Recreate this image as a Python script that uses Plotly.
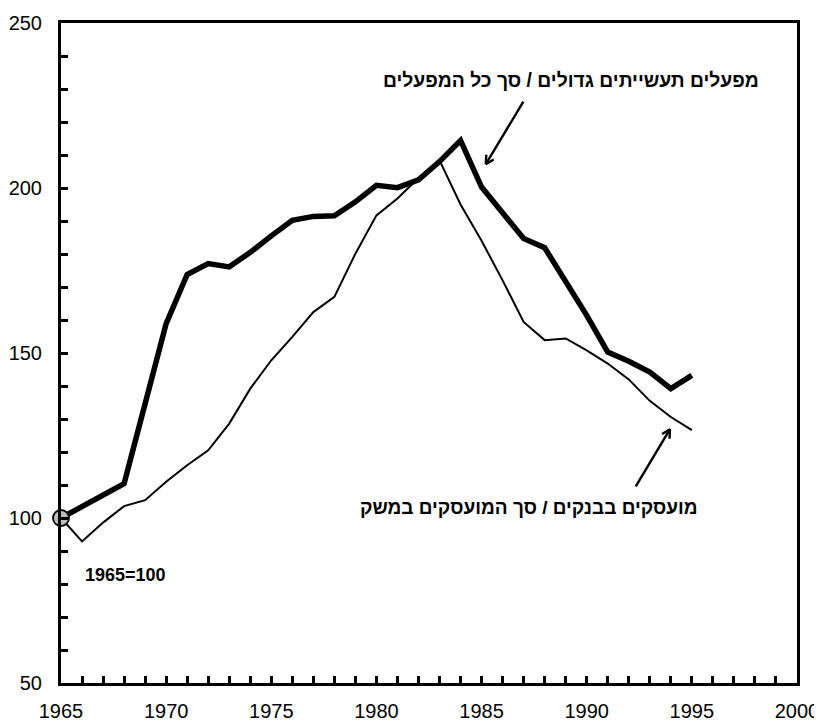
import math
import plotly.graph_objects as go

years = list(range(1965, 1996))
large_factories = [100, 103.5, 107, 110.4, 134.6, 158.9, 173.8, 177.1, 176.1, 180.5, 185.5, 190.2,
                   191.4, 191.6, 195.8, 200.8, 200.1, 202.5, 208.0, 214.4, 200.3, 192.2, 184.7,
                   181.9, 172.0, 161.4, 150.3, 147.5, 144.2, 139.2, 143.2]
bank_employees = [100, 92.9, 98.6, 103.6, 105.4, 111.0, 116.0, 120.5, 128.6, 139.2, 147.8, 154.9,
                  162.4, 167.0, 180.1, 191.7, 196.8, 203.0, 208.4, 195.0, 184.0, 172.0, 159.4,
                  153.9, 154.4, 150.8, 146.8, 142.0, 135.5, 130.6, 126.6]

label_factories = "מפעלים תעשייתים גדולים / סך כל המפעלים"
label_banks = "מועסקים בבנקים / סך המועסקים במשק"
base_label = "1965=100"

x_ticks = list(range(1965, 2001))
x_ticktext = [str(y) if y % 5 == 0 else "" for y in x_ticks]
y_ticks = list(range(50, 251, 10))
y_ticktext = [str(v) if v % 50 == 0 else "" for v in y_ticks]

W, H = 814, 714
ML, MR, MT, MB = 53, 25, 15, 39
X0, X1, Y0, Y1 = 1965, 2000, 50, 250
px_per_x = (W - ML - MR) / (X1 - X0)
px_per_y = (H - MT - MB) / (Y1 - Y0)

fig = go.Figure()
fig.add_trace(go.Scatter(x=years, y=bank_employees, mode="lines",
                         line=dict(color="black", width=2), showlegend=False))
fig.add_trace(go.Scatter(x=years, y=large_factories, mode="lines",
                         line=dict(color="black", width=5.5), showlegend=False))
fig.add_trace(go.Scatter(x=[years[0]], y=[large_factories[0]], mode="markers",
                         marker=dict(size=16, color="#bdbdbd", line=dict(color="black", width=1.8)),
                         showlegend=False, cliponaxis=False))

fig.add_annotation(x=1998.3, y=232.6, xref="x", yref="y", text=f"<b>{label_factories}</b>",
                   showarrow=False, xanchor="right", yanchor="middle",
                   font=dict(family="Liberation Sans", size=19.3, color="black"))
fig.add_annotation(x=1995.4, y=103.2, xref="x", yref="y", text=f"<b>{label_banks}</b>",
                   showarrow=False, xanchor="right", yanchor="middle",
                   font=dict(family="Liberation Sans", size=19, color="black"))
fig.add_annotation(x=1966.05, y=82.6, xref="x", yref="y", text=f"<b>{base_label}</b>",
                   showarrow=False, xanchor="left", yanchor="middle",
                   font=dict(family="Liberation Sans", size=18, color="black"))


def open_arrow(head, tail, wing_px=11, angle_deg=28, width=2.4):
    hx, hy = head
    tx, ty = tail
    fig.add_annotation(x=hx, y=hy, ax=tx, ay=ty, xref="x", yref="y", axref="x", ayref="y",
                       text="", showarrow=True, arrowhead=0, arrowwidth=width, arrowcolor="black")
    dx = (tx - hx) * px_per_x
    dy = (ty - hy) * px_per_y
    n = math.hypot(dx, dy)
    ux, uy = dx / n, dy / n
    for s in (1, -1):
        a = math.radians(angle_deg) * s
        wx = ux * math.cos(a) - uy * math.sin(a)
        wy = ux * math.sin(a) + uy * math.cos(a)
        fig.add_annotation(x=hx, y=hy, ax=hx + wx * wing_px / px_per_x, ay=hy + wy * wing_px / px_per_y,
                           xref="x", yref="y", axref="x", ayref="y", text="", showarrow=True,
                           arrowhead=0, arrowwidth=width, arrowcolor="black")


open_arrow((1985.2, 207.2), (1987.03, 226.6))
open_arrow((1993.96, 126.9), (1992.29, 109.1))

axis_font = dict(family="Liberation Sans", size=20, color="black")
fig.update_xaxes(range=[X0, X1], tickvals=x_ticks, ticktext=x_ticktext, ticks="inside",
                 ticklen=7, tickwidth=2.5, tickcolor="black", showline=True, linewidth=3,
                 linecolor="black", mirror=True, showgrid=False, zeroline=False,
                 tickfont=axis_font, ticklabelstandoff=8, automargin=False)
fig.update_yaxes(range=[Y0, Y1], tickvals=y_ticks, ticktext=y_ticktext, ticks="inside",
                 ticklen=7, tickwidth=2.5, tickcolor="black", showline=True, linewidth=3,
                 linecolor="black", mirror=True, showgrid=False, zeroline=False,
                 tickfont=axis_font, ticklabelstandoff=12, automargin=False)
fig.update_layout(width=W, height=H, margin=dict(l=ML, r=MR, t=MT, b=MB),
                  plot_bgcolor="white", paper_bgcolor="white", showlegend=False)

fig.write_html("out.html")
